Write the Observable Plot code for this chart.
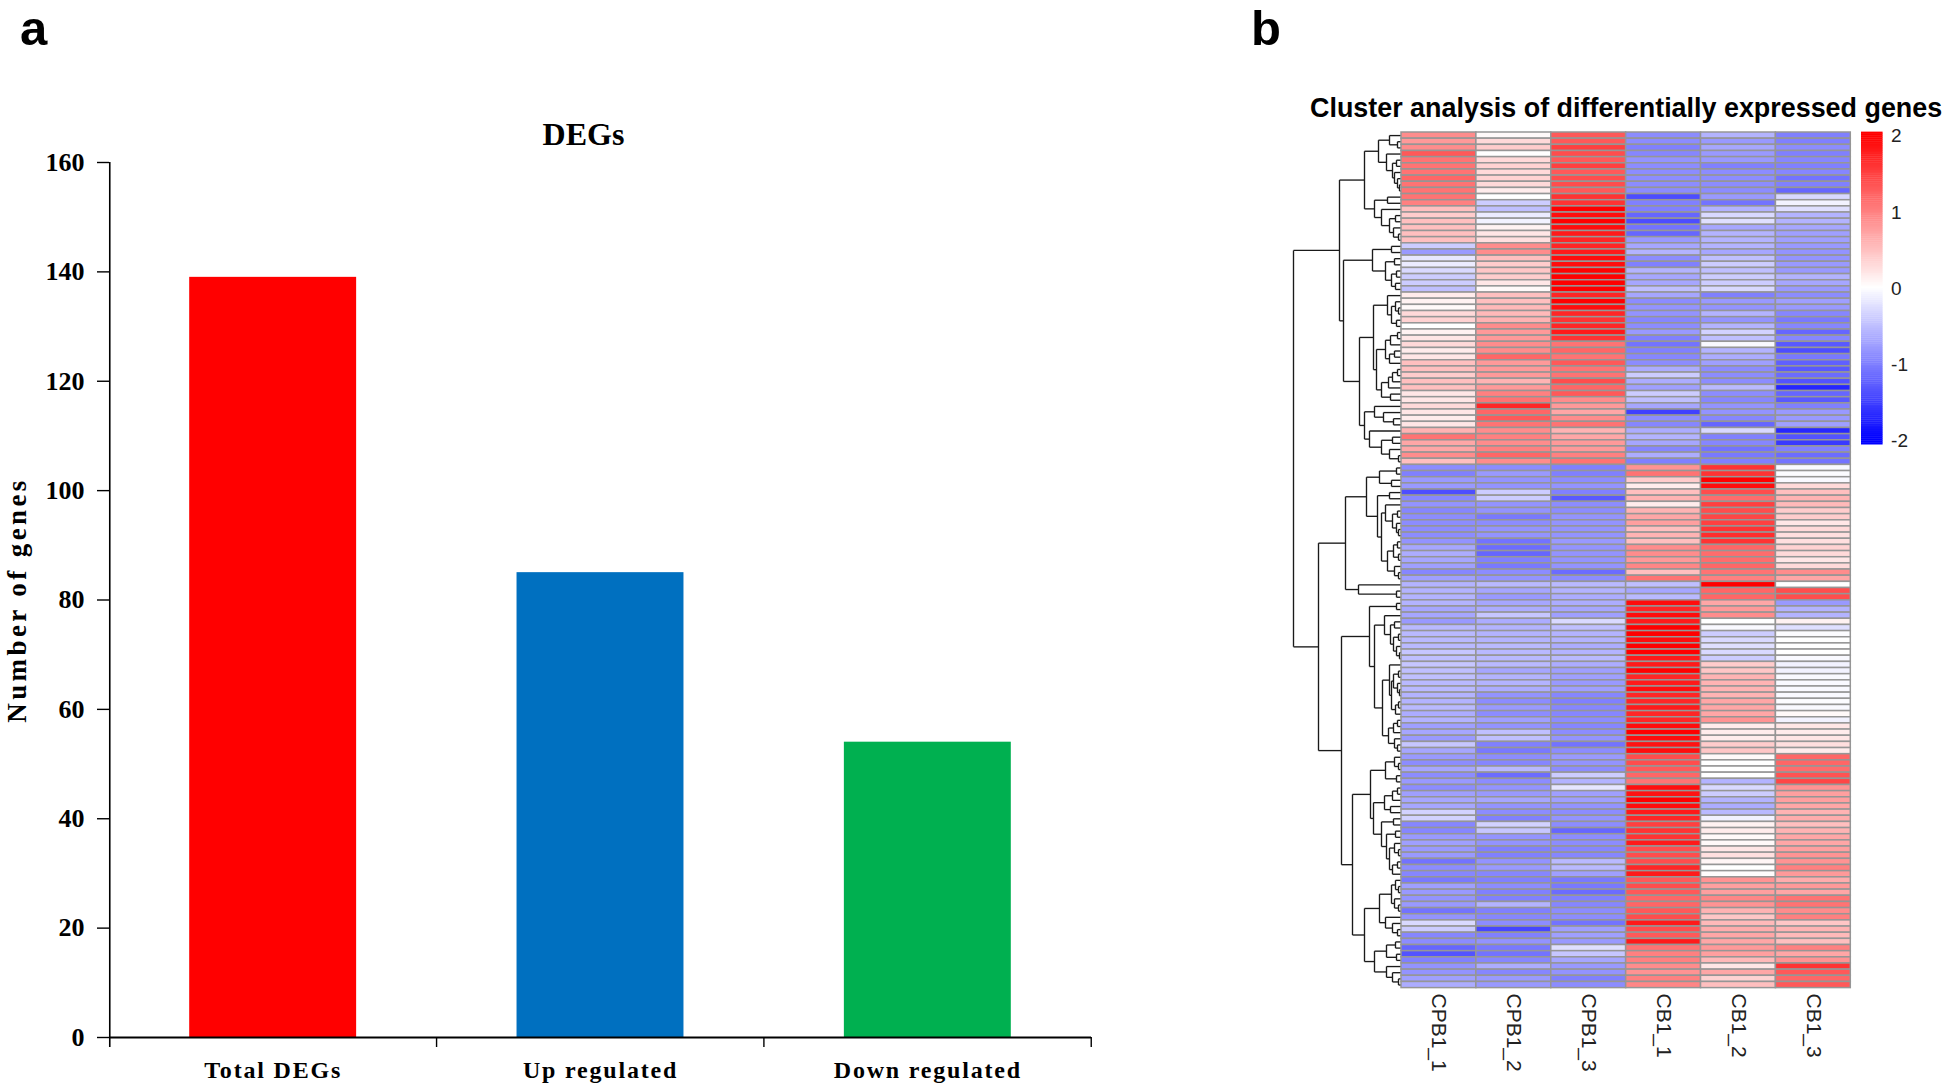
<!DOCTYPE html>
<html>
<head>
<meta charset="utf-8">
<script src="https://cdn.jsdelivr.net/npm/d3@7"></script>
<script src="https://cdn.jsdelivr.net/npm/@observablehq/plot@0.6"></script>
<style>
html,body{margin:0;padding:0;background:#fff}
#page{position:relative;width:1944px;height:1087px;overflow:hidden;background:#fff}
#page svg{position:absolute;background:transparent;max-width:none;overflow:visible}
.t{position:absolute;white-space:nowrap;color:#000;line-height:normal}
</style>
</head>
<body>
<div id="page"></div>
<script>
// ---- panel a ----
const barCategories = ["Total DEGs", "Up regulated", "Down regulated"];
const barValues = [139, 85, 54];
const barColors = ["#ff0000", "#0070c0", "#00b050"];
const barTicks = [0, 20, 40, 60, 80, 100, 120, 140, 160];

// ---- panel b ----
const sampleNames = ["CPB1_1", "CPB1_2", "CPB1_3", "CB1_1", "CB1_2", "CB1_3"];
const CPB1_1 = [
  .9,.8,.9,1.3,1.1,1.1,1.1,1.2,1.1,1.1,
  1.1,1.0,.5,.4,.5,.5,.5,.5,-.4,-.8,
  -.2,-.15,-.3,-.4,-.4,-.5,.15,.1,.05,.3,
  .35,0,.1,.2,.3,.15,.2,.5,.5,.4,
  .5,.5,.2,.2,.3,.2,.15,.2,.6,1.1,
  .7,.7,.9,.5,-.9,-1,-.8,-.8,-1.4,-.95,
  -.85,-.95,-.9,-.9,-.9,-.9,-.85,-.7,-.65,-.7,
  -.75,-.95,-.75,-.6,-.6,-.6,-.6,-.7,-.7,-.8,
  -.55,-.55,-.55,-.55,-.45,-.5,-.45,-.5,-.5,-.55,
  -.55,-.6,-.6,-.55,-.65,-.6,-.75,-.7,-.8,-.45,
  -.7,-.8,-.9,-.7,-.9,-.8,-.9,-.75,-.7,-.7,
  -.35,-.35,-.95,-.95,-.8,-.75,-.8,-.8,-1.1,-.9,
  -.95,-1.05,-.75,-.8,-.85,-.8,-1.1,-.85,-.3,-.4,
  -.95,-.9,-1.2,-1.35,-1,-.85,-.85,-.75,-.65];
const CPB1_2 = [
  .05,.3,.4,0,.3,.35,.3,.35,.3,.15,
  0,-.4,-.5,-.15,-.1,.1,.2,.25,.9,.9,
  .5,.4,.45,.4,.2,.05,.5,.5,.55,.55,
  .6,.9,.8,.8,.9,.9,1.2,.8,.8,.8,
  .6,.8,1,1.1,1.7,1.2,1.3,1.1,.9,1,
  .9,1,1.2,.9,-.9,-.8,-.85,-.85,-.4,-.4,
  -.85,-.85,-1.05,-.9,-.85,-.85,-1.1,-1.15,-1.2,-1,
  -1.05,-.9,-.85,-.55,-.7,-.8,-.7,-.65,-.45,-.65,
  -.6,-.6,-.6,-.55,-.55,-.55,-.55,-.7,-.6,-.6,
  -.65,-.85,-.9,-.8,-.9,-.75,-.85,-.5,-.5,-1,
  -1.05,-.9,-.95,-.55,-1.15,-.9,-.85,-.8,-.7,-.85,
  -.9,-1,-.35,-.45,-.85,-.85,-1,-1,-.85,-.8,
  -.95,-1,-.9,-1,-1,-.6,-1,-.95,-.9,-1.45,
  -1,-.85,-1.05,-1.1,-.95,-.65,-.95,-.8,-.8];
const CPB1_3 = [
  1.3,1.3,1.5,1.4,1.3,1.5,1.3,1.4,1.4,1.3,
  1.6,1.6,2,1.9,2,1.9,1.8,1.7,1.7,1.8,
  1.9,1.9,2,2,2,2,1.7,2,1.9,1.7,
  1.6,1.7,1.8,1.6,1.1,1.2,1.1,1.3,1.1,1.1,
  1.4,1.2,1.3,.9,.8,.7,.9,1.1,.6,.7,
  .8,.8,1,1.1,-1,-1,-.9,-.85,-1,-1.3,
  -.9,-.9,-.85,-.85,-.85,-.85,-.8,-.85,-.85,-.85,
  -.85,-1.15,-.9,-.55,-.6,-.65,-.65,-.7,-.75,-.3,
  -.5,-.6,-.6,-.65,-.6,-.55,-.65,-.75,-.75,-.8,
  -.75,-.95,-1,-.95,-.95,-.9,-.95,-.9,-.85,-1.1,
  -.9,-.8,-.85,-.9,-.4,-.6,-.2,-.75,-.75,-.85,
  -.9,-.85,-.9,-1.2,-.9,-.9,-.95,-.95,-.55,-.55,
  -.75,-1.05,-1.05,-1.15,-1,-.95,-.9,-.9,-1.1,-.75,
  -.75,-.8,-.25,-.45,-.7,-.8,-.85,-1,-.9];
const CB1_1 = [
  -.9,-.9,-1,-.95,-.85,-.9,-.9,-.9,-.9,-.9,
  -1.4,-1,-1,-1.2,-1.4,-1.1,-1.2,-.8,-.7,-.6,
  -.9,-1,-.6,-.7,-.7,-.5,-.7,-.9,-.85,-.85,
  -.95,-.9,-.8,-1,-1.1,-1,-.95,-.9,-.65,-.4,
  -.65,-.75,-.4,-.5,-.7,-1.5,-.9,-.95,-.65,-.6,
  -.7,-.95,-.65,-1,.85,1.1,.4,.15,.5,.6,
  .15,.6,.7,.75,.5,.6,.5,.9,.9,.8,
  .95,.5,1.1,-.5,-.7,-.55,1.9,1.7,1.9,1.8,
  2,2,1.9,2,2,1.8,1.8,2,1.7,1.8,
  1.9,1.7,1.7,1.8,1.7,1.7,1.9,2,1.9,1.85,
  1.9,1.4,1.4,1.3,1.2,1.1,1.9,1.85,2,1.9,
  1.8,1.7,1.5,1.6,1.6,1.8,1.4,1.4,1.4,1.7,
  1.8,1.3,1.4,1.3,1.2,1.2,1.3,1.4,1.8,1.4,
  1.3,1.8,1.1,1,1,.9,.85,1,.95];
const CB1_2 = [
  -.6,-.8,-.7,-.8,-.8,-1,-.9,-.9,-.9,-.9,
  -.8,-1.1,-.6,-.3,-.25,-.7,-.6,-.6,-.6,-.7,
  -.5,-.4,-.5,-.4,-.4,-.3,-1,-.8,-.85,-.6,
  -.85,-.6,-.35,-.5,-.05,-.6,-.65,-.75,-.9,-.9,
  -.9,-.55,-.9,-.95,-.85,-.85,-.95,-1.2,-.3,-1,
  -.95,-1.1,-1.05,-1,1.6,1.6,2,1.9,1.4,1.15,
  1.5,1.4,1.45,1.5,1.6,1.65,1.6,1.2,1.15,1.15,
  1.2,1.1,1,2,1.2,1.2,.7,.8,.9,0,
  -.05,-.4,-.3,-.25,-.3,-.4,.4,.45,.6,.6,
  .6,.6,.7,.7,.7,.85,.15,.15,.15,.4,
  .45,.05,0,0,0,-.6,-.3,-.4,-.6,-.65,
  -.55,-.1,.1,.15,.05,.05,.2,.25,.08,0,
  .02,.85,.75,.75,.95,.85,.6,.45,.55,.65,
  .7,.7,.8,.75,.55,.2,.7,.35,.5];
const CB1_3 = [
  -1,-1,-.9,-1,-.95,-1,-.95,-1.1,-1,-1.2,
  -.3,-.1,-.25,-.6,-.6,-.7,-.75,-.75,-.8,-.85,
  -.85,-.8,-.8,-.6,-.7,-.8,-.9,-.75,-.8,-.95,
  -1.05,-.95,-1.2,-.95,-1.3,-1.4,-1.05,-1.25,-1.3,-1.15,
  -1.35,-1.7,-1.2,-1.3,-1,-.8,-.8,-.75,-1.7,-1.35,
  -1.55,-1,-1.15,-1.1,-.05,-.03,-.05,.3,.5,.6,
  .55,.4,.4,.2,.3,.25,.25,.35,.3,.2,
  .3,.9,.7,0,1.4,1.4,-.8,-.6,-.6,.1,
  -.25,-.02,0,0,0,-.05,-.1,-.1,-.05,-.05,
  -.05,-.05,-.02,-.05,.05,-.1,.2,.15,.2,.25,
  .15,1.2,1.2,1.15,1.35,1.45,.85,.75,.75,.7,
  .6,.65,.5,.6,.7,.7,.75,.85,.85,1,
  .8,.65,.8,.7,1.1,1.1,.9,1,.45,.6,
  .55,.5,1,.7,.85,1.6,1.3,1.2,1.3];
const sampleValues = [CPB1_1, CPB1_2, CPB1_3, CB1_1, CB1_2, CB1_3];

// Row dendrogram: [merge height, upper child, lower child]; 0 is a single gene.
const upperB = [37,
  [23, [12,0,[4,0,0]], [15,0,[9,[5,0,0],[7,0,[4,0,[2,0,0]]]]]],
  [27, [14,0,0], [20,0,[12,[6,0,0],[8,0,[3,0,0]]]]]];
const upperC = [58,
  [29, [10,0,0], [16,[7,0,0],[10,[5,0,0],[6,0,0]]]],
  [42,
    [28, [14,0,[10,[6,0,[3,0,0]],[5,0,0]]],
      [25, [16,[11,[4,0,0],0],[12,[7,0,0],0]], [20,[13,[9,[4,0,0],0],0],[11,0,0]]]],
    [37, [27,0,[18,0,[8,0,0]]], [32,0,[20,[9,0,0],[12,0,[3,0,0]]]]]]];
const lowerD1 = [56,
  [35, [22,[5,0,0],[10,0,0]],
    [24, [12,0,0],
      [20, [16,0,[9,[4,0,0],[5,0,[3,0,0]]]],
        [14,[8,[4,0,0],[3,0,0]],[7,0,[3,0,0]]]]]],
  [43,0,[5,0,0]]];
const lowerE = [32, [5,0,0],
  [27, [17,0,[11,[7,0,0],[8,[3,0,0],[5,0,[2,0,0]]]]],
    [19, [12,0,[10,[8,[3,0,0],[4,0,[2,0,0]]],[6,[3,0,0],0]]],
      [13,[8,[4,0,0],0],[7,0,[4,0,0]]]]]];
const lowerH = [49,
  [31, [16,[7,0,[3,0,0]],[5,0,0]],
    [28, [17,[9,[4,0,0],0],[11,0,0]],
      [20,[8,0,0],[15,[6,0,0],[12,[7,0,[3,0,0]],[9,[4,0,0],0]]]]]],
  [37,
    [22, [10,[6,0,[3,0,0]],[7,0,[3,0,0]]], [16,0,[9,0,[4,0,0]]]],
    [27, [15,[6,0,0],[5,0,0]], [15,0,[9,0,[3,0,0]]]]]];
const dendrogram = [108, [62, upperB, upperC], [83, lowerD1, [60, lowerE, lowerH]]];

const legendTicks = [-2, -1, 0, 1, 2];
const legendDomain = [-2.05, 2.05];
const colorStops = ["#0000ff", "#ffffff", "#ff0000"];

// ---- build ----
const page = document.getElementById("page");
const serif = "'Liberation Serif','Times New Roman',serif";
const sans = "'Liberation Sans',Arial,sans-serif";

function place(svg, left, top) {
  svg.style.left = left + "px";
  svg.style.top = top + "px";
  page.appendChild(svg);
  return svg;
}
function label(text, left, top, css) {
  const d = document.createElement("div");
  d.className = "t";
  d.textContent = text;
  d.style.cssText = `left:${left}px;top:${top}px;${css}`;
  page.appendChild(d);
}

// Panel a: bar chart
const bars = barCategories.map((c, i) => ({category: c, value: barValues[i], color: barColors[i]}));
const halfStep = 163.4;
const barPlot = Plot.plot({
  width: 1150, height: 1087,
  marginLeft: 109, marginRight: 59, marginTop: 162, marginBottom: 50,
  style: {background: "transparent", color: "#000"},
  x: {domain: barCategories, paddingInner: 0.49, paddingOuter: 0.245, round: false, label: null},
  y: {domain: [0, 160], label: null},
  marks: [
    Plot.barY(bars, {x: "category", y: "value", fill: "color"}),
    Plot.axisY({ticks: barTicks, tickSize: 12, tickPadding: 13, tickFormat: d => String(d), label: null,
      fontFamily: serif, fontWeight: "bold", fontSize: 26, stroke: "#000", strokeWidth: 1.4}),
    Plot.axisX({tickSize: 0, tickPadding: 23, label: null,
      fontFamily: serif, fontWeight: "bold", fontSize: 24}),
    Plot.ruleY([0], {stroke: "#000", strokeWidth: 2.2}),
    // y axis line, extended down as the first category tick
    Plot.ruleX(barCategories.slice(0, 1), {x: d => d, dx: -halfStep, stroke: "#000", strokeWidth: 1.6, insetBottom: -10}),
    // boundary ticks below the category axis
    Plot.ruleX(barCategories, {x: d => d, dx: halfStep, stroke: "#000", strokeWidth: 1.4, insetTop: 875, insetBottom: -10}),
    Plot.text(["Number of genes"], {text: d => d, frameAnchor: "left", textAnchor: "middle", rotate: -90, dx: -92,
      fontFamily: serif, fontWeight: "bold", fontSize: 27, fill: "#000"}),
    Plot.text(["DEGs"], {text: d => d, frameAnchor: "top", dx: -17, dy: -40,
      fontFamily: serif, fontWeight: "bold", fontSize: 32, fill: "#000"})
  ]
});
place(barPlot, 0, 0);
d3.select(barPlot).selectAll("text").each(function () {
  const s = this.textContent;
  if (s === "Number of genes") this.setAttribute("letter-spacing", "3.4");
  if (barCategories.includes(s)) this.setAttribute("letter-spacing", "1.8");
});

// Panel b: dendrogram
const dendroLinks = [];
let leafCounter = 0;
(function walk(node) {
  if (node === 0) return {x: 0, y: leafCounter++ + 0.5};
  const [h, a, b] = node;
  const A = walk(a), B = walk(b);
  dendroLinks.push({x1: h, y1: A.y, x2: h, y2: B.y},
                   {x1: h, y1: A.y, x2: A.x, y2: A.y},
                   {x1: h, y1: B.y, x2: B.x, y2: B.y});
  return {x: h, y: (A.y + B.y) / 2};
})(dendrogram);

const rowCount = CPB1_1.length;
const dendroPlot = Plot.plot({
  width: 116, height: 855.6,
  margin: 0,
  style: {background: "transparent", filter: "blur(0.45px)"},
  x: {domain: [116, 0], range: [0, 116], axis: null},
  y: {domain: [0, rowCount], range: [0, 855.6], axis: null},
  marks: [Plot.link(dendroLinks, {x1: "x1", y1: "y1", x2: "x2", y2: "y2", stroke: "#1a1a1a", strokeWidth: 1.35})]
});
place(dendroPlot, 1284.7, 131.7);

// Panel b: heatmap
const heatCells = [];
sampleNames.forEach((s, j) => sampleValues[j].forEach((v, r) => heatCells.push({sample: s, row: r, value: v})));
const colorOptions = {type: "linear", domain: [-2, 0, 2], range: colorStops, clamp: true, interpolate: "rgb"};
const heatPlot = Plot.plot({
  width: 449.3, height: 855.6,
  margin: 0,
  style: {background: "transparent", filter: "blur(0.5px)"},
  x: {domain: sampleNames, padding: 0, round: false, axis: null},
  y: {domain: d3.range(rowCount), padding: 0, round: false, axis: null},
  color: colorOptions,
  marks: [Plot.cell(heatCells, {x: "sample", y: "row", fill: "value", stroke: "#969696", strokeWidth: 1.5})]
});
place(heatPlot, 1400.7, 131.7);

const sampleAxis = Plot.plot({
  width: 449.3, height: 91,
  marginLeft: 0, marginRight: 0, marginTop: 0, marginBottom: 90,
  style: {background: "transparent"},
  x: {type: "band", domain: sampleNames, padding: 0, round: false, label: null},
  marks: [Plot.axisX({anchor: "bottom", tickSize: 0, tickPadding: 6, tickRotate: 90, label: null,
    fontFamily: sans, fontSize: 21, fill: "#222"})]
});
place(sampleAxis, 1400.7, 986.3);

// Panel b: colour key
const keyLevels = d3.range(legendDomain[0], legendDomain[1], 0.025);
const keyPlot = Plot.plot({
  width: 60, height: 312.5,
  marginLeft: 0, marginRight: 38.4, marginTop: 0, marginBottom: 0,
  style: {background: "transparent"},
  x: {domain: [0, 1], axis: null},
  y: {domain: legendDomain, label: null},
  color: colorOptions,
  marks: [
    Plot.rect(keyLevels, {x1: 0, x2: 1, y1: d => d, y2: d => d + 0.03, fill: d => d}),
    Plot.axisY({anchor: "right", ticks: legendTicks, tickSize: 0, tickPadding: 8, tickFormat: d => String(d),
      label: null, fontFamily: sans, fontSize: 19, fill: "#222"})
  ]
});
place(keyPlot, 1861, 131.7);

// Texts outside the plots
label("a", 20, 0.2, "font:700 49px 'Liberation Sans',Arial,sans-serif");
label("b", 1251, 0.2, "font:700 49px 'Liberation Sans',Arial,sans-serif");
label("Cluster analysis of differentially expressed genes", 1310, 93, "font:700 26.9px " + sans);
</script>
</body>
</html>
